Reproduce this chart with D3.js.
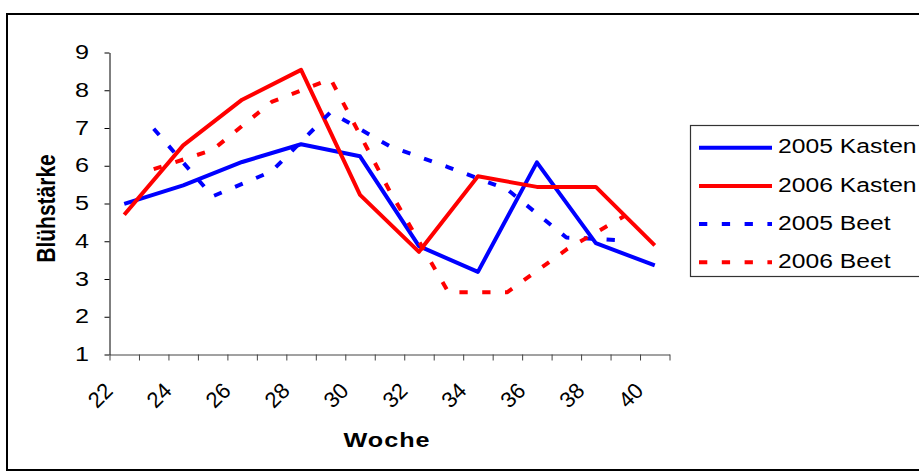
<!DOCTYPE html>
<html><head><meta charset="utf-8">
<script src="https://cdn.jsdelivr.net/npm/d3@7"></script>
<style>body{margin:0;background:#fff} svg{display:block}</style>
</head><body>
<svg id="c" width="919" height="473"></svg>
<script>
// ---- data ----
const weeks = [22,23,24,25,26,27,28,29,30,31,32,33,34,35,36,37,38,39,40];
const xTickLabels = [22,24,26,28,30,32,34,36,38,40];
const yTicks = [1,2,3,4,5,6,7,8,9];
const kasten2005 = [4.99,null,5.48,null,6.10,null,6.57,null,6.25,null,3.87,null,3.19,null,6.09,null,3.95,null,3.36];
const kasten2006 = [4.70,null,6.54,null,7.75,null,8.54,null,5.23,null,3.72,null,5.72,null,5.44,null,5.44,null,3.89];
const beet2005   = [null,6.98,null,5.19,null,5.85,null,7.42,null,6.52,null,5.96,null,5.37,null,4.10,null,4.02,null];
const beet2006   = [null,5.91,null,6.42,null,7.69,null,8.30,null,5.34,null,2.65,null,2.65,null,3.78,null,4.68,null];
const seriesNames = ["2005 Kasten","2006 Kasten","2005 Beet","2006 Beet"];
const seriesValues = [kasten2005, kasten2006, beet2005, beet2006];
const xTitle = "Woche";
const yTitle = "Blühstärke";

// ---- styles ----
const colors = ["#0000FF","#FF0000","#0000FF","#FF0000"];
const dashes = [null,null,"8.3,14.5","8.3,14.5"];
const FONT = "'Liberation Sans', Arial, sans-serif";
const SX = 1.2;

const svg = d3.select("#c");
svg.append("rect").attr("width",919).attr("height",473).attr("fill","#fff");
// outer chart frame
svg.append("rect").attr("x",7).attr("y",14).attr("width",1000).attr("height",456)
  .attr("fill","none").attr("stroke","#000").attr("stroke-width",2);

const x = d3.scaleLinear().domain([21.5,40.5]).range([109.5,669.5]);
const y = d3.scaleLinear().domain([1,9]).range([354.5,52.5]);

// y axis
const gy = svg.append("g").attr("transform","translate(109.5,0)")
  .call(d3.axisLeft(y).tickValues(yTicks).tickSize(5).tickSizeOuter(0).tickFormat(""));
gy.selectAll("path,line").attr("stroke","#000");
svg.append("g").selectAll("text").data(yTicks).join("text")
  .attr("transform",d=>`translate(89,${y(d)+6.5}) scale(${SX},1)`)
  .attr("text-anchor","end").attr("font-family",FONT).attr("font-size",21).attr("fill","#000")
  .text(d=>d);

// x axis
const gx = svg.append("g").attr("transform","translate(0,354.5)")
  .call(d3.axisBottom(x).tickValues(d3.range(21.5,41,1)).tickSize(6).tickSizeOuter(0).tickFormat(""));
gx.selectAll("path,line").attr("stroke","#444");
svg.append("g").selectAll("text").data(xTickLabels).join("text")
  .attr("transform",d=>`translate(${x(d)-10},392) rotate(-45)`)
  .attr("text-anchor","end").attr("font-family",FONT).attr("font-size",22).attr("fill","#000")
  .text(d=>d);

// titles
svg.append("text").attr("transform",`translate(387,446.5) scale(${SX},1)`)
  .attr("text-anchor","middle").attr("font-family",FONT).attr("font-size",21).attr("font-weight","bold")
  .attr("letter-spacing",0.8)
  .text(xTitle);
svg.append("text").attr("transform",`translate(55,208.5) scale(${SX},1) rotate(-90)`)
  .attr("text-anchor","middle").attr("font-family",FONT).attr("font-size",21).attr("font-weight","bold")
  .text(yTitle);

// series
const line = d3.line().x(d=>x(d.w)).y(d=>y(d.v));
seriesValues.forEach((vals,i)=>{
  const pts = weeks.map((w,j)=>({w, v: vals[j]})).filter(d=>d.v!=null);
  svg.append("path").datum(pts).attr("d",line)
    .attr("fill","none").attr("stroke",colors[i]).attr("stroke-width",4)
    .attr("stroke-linejoin","round")
    .attr("stroke-dasharray",dashes[i]);
});

// legend
const lg = svg.append("g");
lg.append("rect").attr("x",690.5).attr("y",125.5).attr("width",300).attr("height",151)
  .attr("fill","#fff").attr("stroke","#333").attr("stroke-width",1.2);
seriesNames.forEach((name,i)=>{
  const cy = 147.7 + i*38.2;
  lg.append("line").attr("x1",699).attr("x2",772).attr("y1",cy).attr("y2",cy)
    .attr("stroke",colors[i]).attr("stroke-width",4).attr("stroke-dasharray",dashes[i]);
  lg.append("text").attr("transform",`translate(778,${cy+5.6}) scale(${SX*0.98},1)`)
    .attr("font-family",FONT).attr("font-size",21).attr("fill","#000").text(name);
});
</script>
</body></html>
